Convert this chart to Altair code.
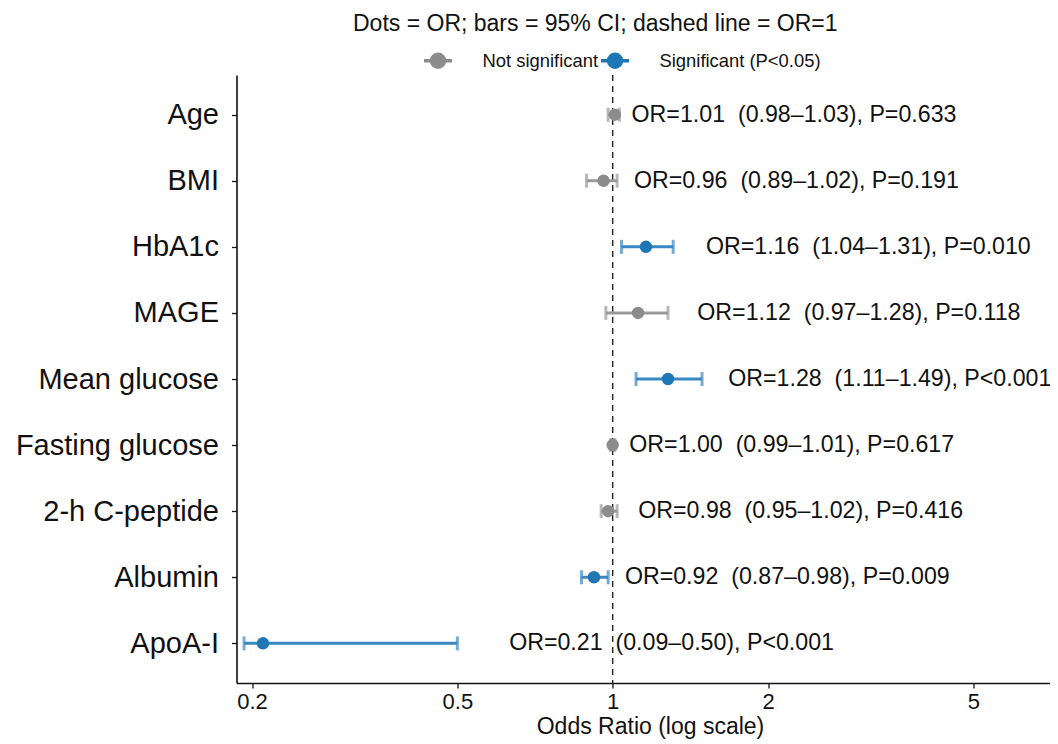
import altair as alt
import pandas as pd

# ---- data ----
variables = ["Age", "BMI", "HbA1c", "MAGE", "Mean glucose", "Fasting glucose",
             "2-h C-peptide", "Albumin", "ApoA-I"]
odds_ratio = [1.01, 0.96, 1.16, 1.12, 1.28, 1.00, 0.98, 0.92, 0.21]
ci_low_drawn = [0.98, 0.89, 1.04, 0.97, 1.11, 0.99, 0.95, 0.87, 0.193]
ci_high = [1.03, 1.02, 1.31, 1.28, 1.49, 1.01, 1.02, 0.98, 0.50]
significant = [False, False, True, False, True, False, False, True, True]
label_at = [1.088, 1.100, 1.516, 1.459, 1.675, 1.077, 1.121, 1.056, 0.630]
label_text = [
    "OR=1.01 \u00a0(0.98\u20131.03), P=0.633",
    "OR=0.96 \u00a0(0.89\u20131.02), P=0.191",
    "OR=1.16 \u00a0(1.04\u20131.31), P=0.010",
    "OR=1.12 \u00a0(0.97\u20131.28), P=0.118",
    "OR=1.28 \u00a0(1.11\u20131.49), P<0.001",
    "OR=1.00 \u00a0(0.99\u20131.01), P=0.617",
    "OR=0.98 \u00a0(0.95\u20131.02), P=0.416",
    "OR=0.92 \u00a0(0.87\u20130.98), P=0.009",
    "OR=0.21 \u00a0(0.09\u20130.50), P<0.001",
]
x_ticks = [0.2, 0.5, 1, 2, 5]
x_domain = [0.1866, 7.04]
reference_or = [1.0]
groups = ["Not significant", "Significant (P<0.05)"]

df = pd.DataFrame({
    "variable": variables,
    "or": odds_ratio,
    "lo": ci_low_drawn,
    "hi": ci_high,
    "lx": label_at,
    "label": label_text,
    "group": [groups[1] if s else groups[0] for s in significant],
})
ref_df = pd.DataFrame({"x": reference_or})

FONT = "Liberation Sans"
dot_colors = ["#8c8c8c", "#1f77b4"]
bar_colors = ["#9a9a9a", "#3a88c2"]

xs = alt.Scale(type="log", domain=x_domain, nice=False, zero=False)
ys = alt.Scale(type="point", padding=0.6, domain=variables)

x_axis = alt.Axis(values=x_ticks, format="~g", title="Odds Ratio (log scale)",
                  labelFontSize=22, titleFontSize=23, labelPadding=3, titlePadding=3,
                  tickSize=5, grid=False, titleFontWeight="normal",
                  titleX=413.5, titleAlign="center")
y_axis = alt.Axis(title=None, labelFontSize=29, labelPadding=13, tickSize=5, grid=False,
                  labelLimit=400)

base = alt.Chart(df)

ref_line = alt.Chart(ref_df).mark_rule(color="#222222", strokeWidth=1.4, strokeDash=[6, 5]).encode(
    x=alt.X("x:Q", scale=xs, axis=x_axis)
)

# bar colour scale keeps a data-derived domain so its (hidden) legend is not merged with the dots' legend
bar_color = alt.Color("group:N", scale=alt.Scale(range=bar_colors), legend=None)

ci_rule = base.mark_rule(strokeWidth=3).encode(
    x=alt.X("lo:Q", scale=xs, axis=x_axis),
    x2="hi:Q",
    y=alt.Y("variable:N", scale=ys, axis=y_axis, sort=variables),
    color=bar_color,
)
cap_lo = base.mark_tick(orient="vertical", size=14, thickness=3).encode(
    x=alt.X("lo:Q", scale=xs, axis=x_axis),
    y=alt.Y("variable:N", scale=ys, axis=y_axis, sort=variables),
    color=bar_color,
)
cap_hi = base.mark_tick(orient="vertical", size=14, thickness=3).encode(
    x=alt.X("hi:Q", scale=xs, axis=x_axis),
    y=alt.Y("variable:N", scale=ys, axis=y_axis, sort=variables),
    color=bar_color,
)

legend = alt.Legend(
    title=None, orient="none", direction="horizontal", legendX=185.5, legendY=-30.5,
    symbolType="M-1,0L1,0M0.46,0A0.46,0.46,0,1,1,-0.46,0A0.46,0.46,0,1,1,0.46,0Z",
    symbolSize=784, symbolStrokeWidth=3.5, labelFontSize=18.4, labelOffset=28.5,
    columnPadding=-9, padding=0, labelColor="#111111", labelFont=FONT, labelLimit=400,
)
dot_scale = alt.Scale(domain=groups, range=dot_colors)
dots = base.mark_point(filled=True, size=120, strokeWidth=1.5, opacity=1).encode(
    x=alt.X("or:Q", scale=xs, axis=x_axis),
    y=alt.Y("variable:N", scale=ys, axis=y_axis, sort=variables),
    fill=alt.Fill("group:N", scale=dot_scale, legend=legend),
    stroke=alt.Stroke("group:N", scale=dot_scale, legend=legend),
)

labels = base.mark_text(align="left", baseline="middle", fontSize=23.2, color="#111111", font=FONT).encode(
    x=alt.X("lx:Q", scale=xs, axis=x_axis),
    y=alt.Y("variable:N", scale=ys, axis=y_axis, sort=variables),
    text="label:N",
)

chart = alt.layer(ref_line, ci_rule, cap_lo, cap_hi, dots, labels).properties(
    width=813.5, height=608,
    autosize=alt.AutoSizeParams(type="none"),
    padding={"left": 228.5, "top": 67, "right": 0, "bottom": 58},
    title=alt.TitleParams("Dots = OR; bars = 95% CI; dashed line = OR=1", anchor="middle",
                          frame="group", dx=-48, fontSize=23, fontWeight="normal",
                          font=FONT, color="#111111", offset=9),
).configure(font=FONT).configure_view(stroke=None).configure_axis(
    labelFont=FONT, titleFont=FONT, labelColor="#111111", titleColor="#111111",
    domainColor="#111111", tickColor="#111111", domainWidth=1.6, tickWidth=1.3,
    titleFontWeight="normal",
).configure_legend(labelFont=FONT)

chart.save("out.html", embed_options={"renderer": "svg", "actions": False})
